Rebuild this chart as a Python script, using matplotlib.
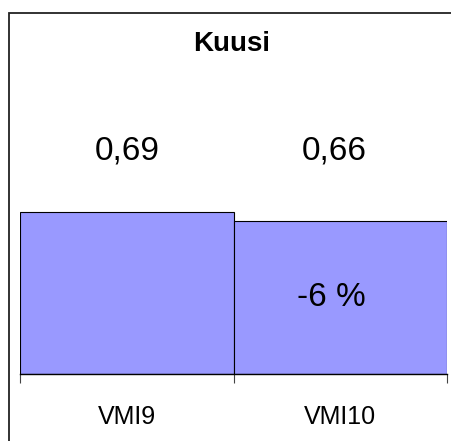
import matplotlib
matplotlib.use("Agg")
import matplotlib.pyplot as plt
from matplotlib.patches import Rectangle

categories = ["VMI9", "VMI10"]
values = [0.694, 0.654]
value_labels = ["0,69", "0,66"]
change_label = "-6 %"
title = "Kuusi"

plt.rcParams['font.family'] = ['Liberation Sans', 'DejaVu Sans']

W, H = 451, 441
fig = plt.figure(figsize=(W / 100, H / 100), dpi=100)

# outer frame
fig.patches.append(Rectangle((8.5 / W, -0.1), 1.2, 1 - 12.5 / H + 0.1, transform=fig.transFigure,
                             fill=False, edgecolor='#222222', linewidth=1.3))

left, right, bottom = 20, 447, 373.5
ymax = 1.4
px_per_unit = 232.6
top = bottom - ymax * px_per_unit
ax = fig.add_axes([left / W, (H - bottom) / H, (right - left) / W, (bottom - top) / H])
ax.set_facecolor('none')
x = list(range(len(categories)))
ax.bar(x, values, width=1.0, color='#9999FF', edgecolor='black', linewidth=0.8)
ax.set_xlim(-0.5, len(categories) - 0.5)
ax.set_ylim(0, ymax)

for s in ['top', 'right', 'left']:
    ax.spines[s].set_visible(False)
ax.spines['bottom'].set_linewidth(1.0)
ax.set_yticks([])
ax.set_xticks(x)
ax.set_xticklabels(categories, fontsize=18)
ax.tick_params(axis='x', which='major', length=0, pad=23)
ax.set_xticks([-0.5, 0.5, 1.5], minor=True)
ax.tick_params(axis='x', which='minor', length=6.5, width=0.8, color='#444444')

label_x = [0.0, 0.97]
for xi, lab in zip(label_x, value_labels):
    ax.text(xi, 0.955, lab, ha='center', va='center', fontsize=24)
ax.text(0.96, 0.325, change_label, ha='center', va='center', fontsize=24)

fig.text(232 / W, 1 - 44 / H, title, ha='center', va='center', fontsize=20, fontweight='bold')

fig.savefig('out.png', dpi=100)
